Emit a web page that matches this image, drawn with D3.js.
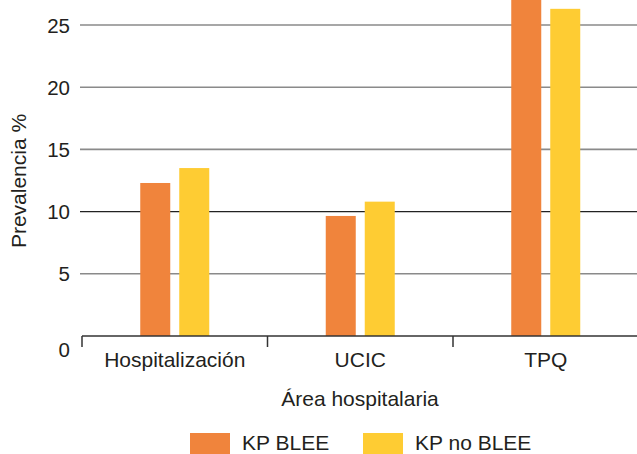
<!DOCTYPE html>
<html>
<head>
<meta charset="utf-8">
<script src="https://cdn.jsdelivr.net/npm/d3@7"></script>
<style>
  html, body { margin: 0; padding: 0; background: #fff; }
  svg { display: block; font-family: "Liberation Sans", Arial, sans-serif; }
</style>
</head>
<body>
<svg id="chart" width="637" height="454"></svg>
<script>
const categories = ["Hospitalización", "UCIC", "TPQ"];
const seriesNames = ["KP BLEE", "KP no BLEE"];
const kpBlee = [12.3, 9.65, 28.5];
const kpNoBlee = [13.5, 10.8, 26.3];
const yTicks = [0, 5, 10, 15, 20, 25];
const colors = ["#F0843C", "#FECC33"];
const yTitle = "Prevalencia %";
const xTitle = "Área hospitalaria";

const seriesValues = [kpBlee, kpNoBlee];
const svg = d3.select("#chart");
const textColor = "#231f20";

const x0 = d3.scaleBand().domain(categories).range([82, 638.5]).paddingInner(0).paddingOuter(0);
const bw = x0.bandwidth();
const x1 = d3.scaleBand().domain(seriesNames)
  .range([bw / 2 - 34.5, bw / 2 + 34.5]).paddingInner(2 - 69 / 39).paddingOuter(0);
const y = d3.scaleLinear().domain([0, 25]).range([336, 25]);

// gridlines
svg.append("g").selectAll("line").data(yTicks.filter(d => d > 0)).join("line")
  .attr("x1", 80).attr("x2", 637)
  .attr("y1", d => y(d)).attr("y2", d => y(d))
  .attr("stroke", d => d === 10 ? "#222" : "#8a8a8a")
  .attr("stroke-width", d => d === 10 ? 1.3 : 1.6);

// bars
const groups = svg.append("g").selectAll("g").data(categories).join("g")
  .attr("transform", d => `translate(${x0(d)},0)`);
groups.selectAll("rect")
  .data((c, i) => seriesNames.map((s, j) => ({ s, j, v: seriesValues[j][i] })))
  .join("rect")
  .attr("x", d => x1(d.s))
  .attr("width", x1.bandwidth())
  .attr("y", d => y(d.v))
  .attr("height", d => y(0) - y(d.v))
  .attr("fill", d => colors[d.j]);

// x axis
const xAxis = d3.axisBottom(x0).tickSize(0).tickFormat("");
const xg = svg.append("g").attr("transform", `translate(0,${y(0)})`).call(xAxis);
xg.select(".domain").attr("d", `M82,0H637`).attr("stroke", "#333").attr("stroke-width", 1.5);
const bounds = categories.map(c => x0(c));
xg.append("g").selectAll("line").data(bounds).join("line")
  .attr("x1", d => d).attr("x2", d => d).attr("y1", 0).attr("y2", 11)
  .attr("stroke", "#333").attr("stroke-width", 1.5);
xg.append("g").selectAll("text").data(categories).join("text")
  .attr("x", d => x0(d) + bw / 2)
  .attr("y", 30.5)
  .attr("text-anchor", "middle")
  .attr("font-size", 21)
  .attr("fill", textColor)
  .text(d => d);

// y axis labels
const yAxis = d3.axisLeft(y).tickValues(yTicks).tickSize(0).tickPadding(0);
const yg = svg.append("g").attr("transform", "translate(70,0)").call(yAxis);
yg.select(".domain").remove();
yg.selectAll(".tick text")
  .attr("font-size", 20.5)
  .attr("font-family", "Liberation Sans, Arial, sans-serif")
  .attr("fill", textColor)
  .attr("dy", d => d === 0 ? "1.0em" : "0.35em");

// axis titles
svg.append("text")
  .attr("transform", "translate(25.5,181) rotate(-90)")
  .attr("text-anchor", "middle")
  .attr("font-size", 21)
  .attr("fill", textColor)
  .text(yTitle);
svg.append("text")
  .attr("x", 360).attr("y", 405.5)
  .attr("text-anchor", "middle")
  .attr("font-size", 21)
  .attr("fill", textColor)
  .text(xTitle);

// legend
const legendX = [190, 363];
const lg = svg.append("g").selectAll("g").data(seriesNames).join("g")
  .attr("transform", (d, i) => `translate(${legendX[i]},433)`);
lg.append("rect").attr("width", 40).attr("height", 21).attr("fill", (d, i) => colors[i]);
lg.append("text").attr("x", 52).attr("y", 16.5)
  .attr("font-size", 21).attr("fill", textColor).text(d => d);
</script>
</body>
</html>
